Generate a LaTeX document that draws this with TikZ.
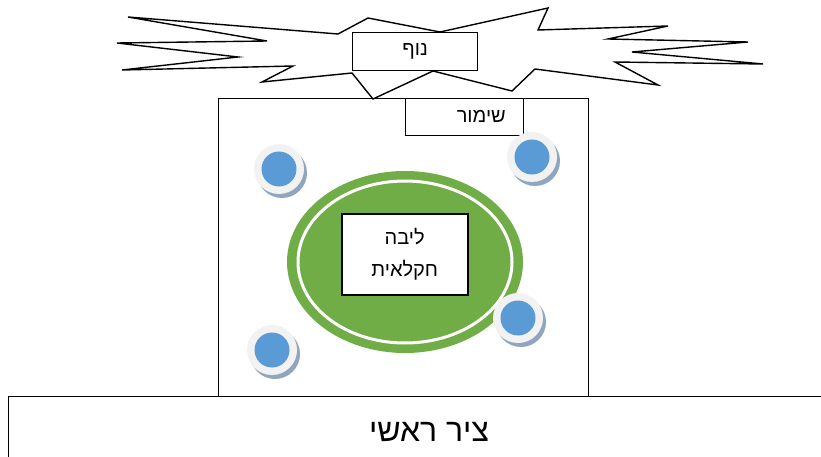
\documentclass[tikz,border=0pt]{standalone}
\usepackage{fontspec}
\newfontfamily\hebfont[Script=Hebrew]{Liberation Sans}
\TeXXeTstate=1
\definecolor{grn}{RGB}{112,173,71}
\definecolor{blu}{RGB}{91,155,213}
\definecolor{disc}{RGB}{242,242,242}
\definecolor{shad}{RGB}{143,166,190}
\tikzset{
  box/.style={draw=black, line width=1.2pt, fill=white, inner sep=0pt, align=center},
  heb/.style={font=\hebfont\fontsize{20}{26}\selectfont},
}
\newcommand{\pin}[1]{%
  \fill[shad] ([xshift=3pt,yshift=-4pt]#1) circle (25);
  \fill[disc] (#1) circle (25);
  \fill[blu] (#1) circle (17.5);
}
\begin{document}
\begin{tikzpicture}[x=1pt,y=-1pt]
\useasboundingbox (0,0) rectangle (821,457);
% main field
\node[draw=black, line width=1pt, minimum width=370pt, minimum height=298pt, inner sep=0pt, anchor=north west] (field) at (218,98) {};
% starburst
\draw[line width=1.4pt, fill=white, line join=miter]
  (128,17) -- (338,34) -- (368,18) -- (440,32) -- (548,8) -- (538,30) -- (668,26)
  -- (608,39) -- (748,42) -- (632,52) -- (763,64) -- (615,62) -- (658,85)
  -- (535,69) -- (512,91) -- (433,71) -- (373,99) -- (352,73) -- (262,82)
  -- (293,66) -- (122,70) -- (238,57) -- (117,43) -- (267,41) -- cycle;
% noph box
\node[box, heb, minimum width=125pt, minimum height=38pt, anchor=north west] (nof) at (352,32) {\beginR נוף\endR};
% shimur box
\node[box, line width=1pt, minimum width=118pt, minimum height=37pt, anchor=north west] (shimur) at (405,98) {};
\node[heb, anchor=east, inner sep=0pt] (shimurt) at ([xshift=-18pt,yshift=1pt]shimur.east) {\beginR שימור\endR};
% green core
\fill[grn] (405,262) ellipse [x radius=118, y radius=91];
\draw[white, line width=3pt] (405,262) ellipse [x radius=107, y radius=81];
\node[box, heb, line width=1.5pt, minimum width=126pt, minimum height=81pt, anchor=north west, font=\hebfont\fontsize{20}{32}\selectfont] (core) at (341,213) {\beginR ליבה\endR\\\beginR חקלאית\endR};
% pins
\coordinate (p1) at (279,169);
\coordinate (p2) at (532,157);
\coordinate (p3) at (518,318);
\coordinate (p4) at (272,350);
\pin{p1}
\pin{p2}
\pin{p3}
\pin{p4}
% main axis
\node[draw=black, line width=1.2pt, fill=white, minimum width=830pt, minimum height=80pt, inner sep=0pt, anchor=north west] (axis) at (8,396) {};
\node[font=\hebfont\fontsize{32}{38}\selectfont, inner sep=0pt] (axist) at (429,432) {\beginR ציר ראשי\endR};
\end{tikzpicture}
\end{document}
